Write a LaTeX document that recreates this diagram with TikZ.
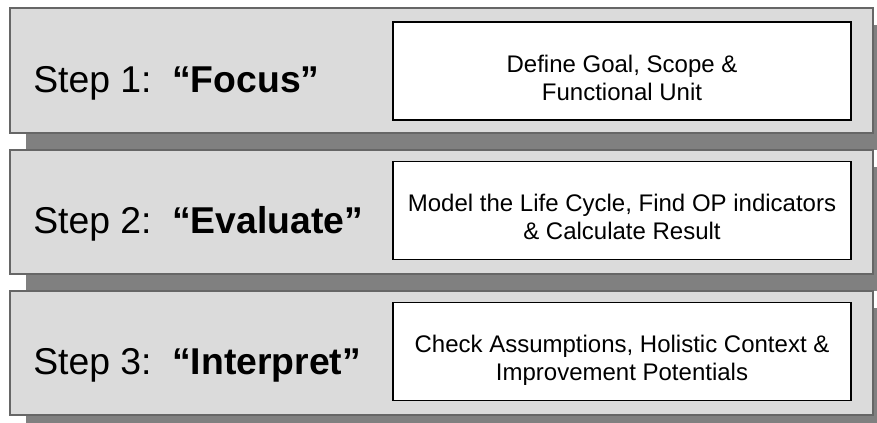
\documentclass[tikz,border=0pt]{standalone}
\usepackage{fontspec}
\setmainfont{Liberation Sans}
\usetikzlibrary{positioning}

\tikzset{
  panel/.style={draw=black!60, fill=black!14, line width=0.8pt},
  panelshade/.style={fill=black!50},
  stepname/.style={anchor=base west, inner sep=0pt, font=\fontsize{28}{33}\selectfont},
  taskbox/.style={draw=black, fill=white, line width=1.3pt, minimum width=343.5pt,
    minimum height=73.5pt},
  tasktext/.style={inner sep=0pt, align=center, font=\fontsize{18}{21}\selectfont},
}

\begin{document}
\begin{tikzpicture}[x=0.75pt,y=-0.75pt]
  \useasboundingbox (0,0) rectangle (877,423);

  % step 1
  \fill[panelshade] (26,25) rectangle (889,150);
  \draw[panel] (10,8) rectangle (873,133);
  \node[stepname] (step1) at (33,93) {Step 1:\ \ \textbf{“Focus”}};
  \node[taskbox] (task1) at (622,71) {};
  \node[tasktext, below=25pt of task1.north] (text1) {Define Goal, Scope \&\\Functional Unit};

  % step 2
  \fill[panelshade] (26,167) rectangle (889,291);
  \draw[panel] (10,150) rectangle (873,274);
  \node[stepname] (step2) at (33,234) {Step 2:\ \ \textbf{“Evaluate”}};
  \node[taskbox] (task2) at (622,210.5) {};
  \node[tasktext, below=25pt of task2.north] (text2) {Model the Life Cycle, Find OP indicators\\\& Calculate Result};

  % step 3
  \fill[panelshade] (26,308) rectangle (889,432);
  \draw[panel] (10,291) rectangle (873,415);
  \node[stepname] (step3) at (33,375) {Step 3:\ \ \textbf{“Interpret”}};
  \node[taskbox] (task3) at (622,351.5) {};
  \node[tasktext, below=25pt of task3.north] (text3) {Check Assumptions, Holistic Context \&\\Improvement Potentials};
\end{tikzpicture}
\end{document}
